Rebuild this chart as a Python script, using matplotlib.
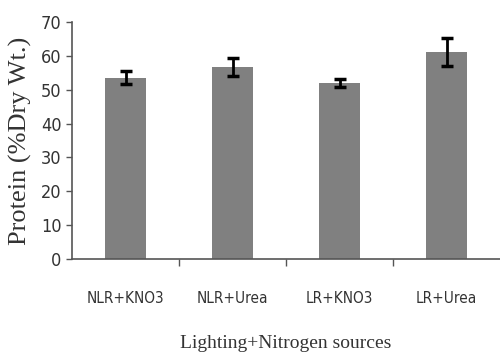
import numpy as np
import matplotlib.pyplot as plt
from matplotlib.ticker import FixedLocator

treatments = ["NLR+KNO3", "NLR+Urea", "LR+KNO3", "LR+Urea"]
protein = [53.6, 56.7, 51.9, 61.2]
protein_err = [1.8, 2.6, 1.2, 4.2]

fig = plt.figure(figsize=(5.0, 3.56), dpi=100)
ax = fig.add_axes([0.144, 0.2725, 0.856, 0.6655])

x = np.arange(len(treatments))
ax.bar(x, protein, width=0.39, color="#808080", zorder=2)
ax.errorbar(x, protein, yerr=protein_err, fmt="none", ecolor="black",
            elinewidth=2, capsize=4, capthick=2.5, zorder=3)

ax.set_xlim(-0.5, len(treatments) - 0.5)
ax.set_ylim(0, 70)
ax.set_yticks(range(0, 71, 10))
ax.set_xticks(x)
ax.set_xticklabels(treatments, fontsize=11, color="#333333",
                   fontstretch="condensed")
ax.tick_params(axis="x", length=0, pad=23)
ax.xaxis.set_minor_locator(FixedLocator(x[:-1] + 0.5))
ax.tick_params(axis="x", which="minor", length=5, width=1, color="#555555")
ax.tick_params(axis="y", length=4, width=1, color="#555555",
               labelsize=13, labelcolor="#333333")
for lab in ax.get_yticklabels():
    lab.set_fontstretch("condensed")

for side in ("top", "right"):
    ax.spines[side].set_visible(False)
for side in ("left", "bottom"):
    ax.spines[side].set_color("#555555")
    ax.spines[side].set_linewidth(1.2)

ax.set_ylabel("Protein (%Dry Wt.)", family="Liberation Serif", fontsize=19,
              color="#333333", labelpad=6)
ax.set_xlabel("Lighting+Nitrogen sources", family="Liberation Serif",
              fontsize=14, color="#333333", labelpad=21)

fig.savefig("out.png", dpi=100)
